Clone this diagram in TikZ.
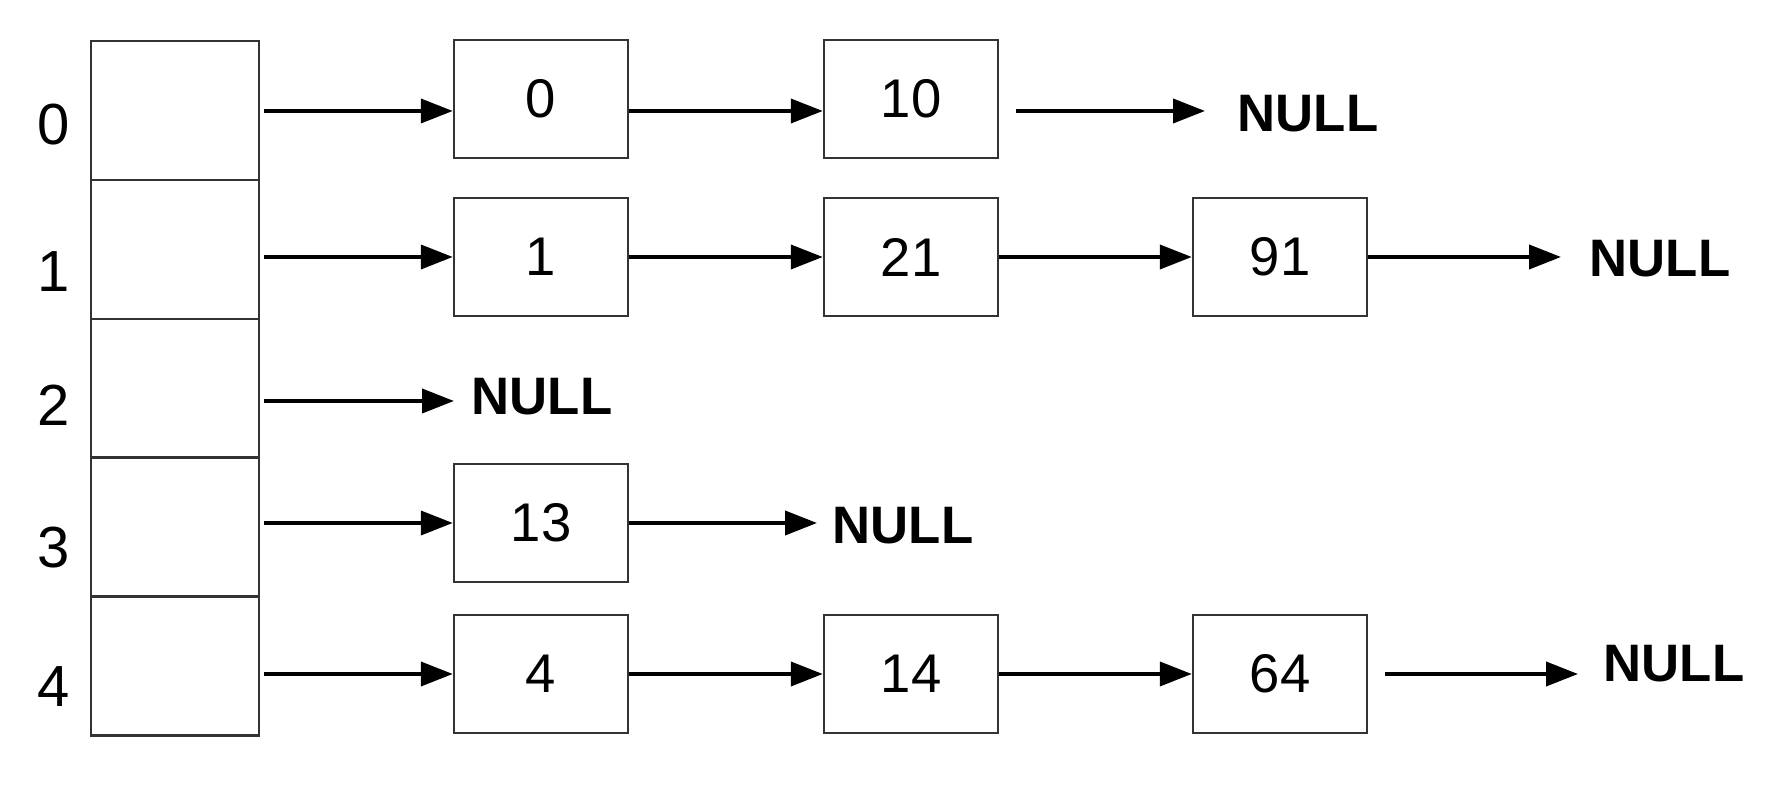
\documentclass[tikz,border=0pt]{standalone}
\usepackage{fontspec}
\setmainfont{Liberation Sans}
\usetikzlibrary{arrows.meta}
\tikzset{
    slot/.style={draw=black!80, line width=0.7pt, minimum width=16.8mm, minimum height=13.89mm, inner sep=0pt},
    elem/.style={draw=black!80, line width=0.7pt, minimum width=17.4mm, minimum height=11.8mm, inner sep=0pt, font=\fontsize{15.5}{16}\selectfont},
    idx/.style={inner sep=0pt, font=\fontsize{16.5}{17}\selectfont},
    nil/.style={anchor=west, inner sep=0pt, font=\bfseries\fontsize{15}{16}\selectfont},
    link/.style={-{Triangle[length=3.2mm,width=2.4mm]}, line width=1.1pt}
}
\begin{document}
\begin{tikzpicture}[x=0.1mm,y=0.1mm]
        \useasboundingbox (0,0) rectangle (1780,808);
        \node[slot] (t0) at (175,697.5) {};
        \node[slot] (t1) at (175,558.6) {};
        \node[slot] (t2) at (175,419.8) {};
        \node[slot] (t3) at (175,280.9) {};
        \node[slot] (t4) at (175,142) {};
        \node[idx] (i0) at (54,683) {0};
        \node[idx] (i1) at (54,536) {1};
        \node[idx] (i2) at (54,403) {2};
        \node[idx] (i3) at (54,260) {3};
        \node[idx] (i4) at (54,121) {4};

        \node[elem] (a0) at (541,709) {0};
        \node[elem] (a1) at (911,709) {10};
        \node[elem] (b0) at (541,551) {1};
        \node[elem] (b1) at (911,551) {21};
        \node[elem] (b2) at (1280,551) {91};
        \node[elem] (d0) at (541,285) {13};
        \node[elem] (e0) at (541,134) {4};
        \node[elem] (e1) at (911,134) {14};
        \node[elem] (e2) at (1280,134) {64};

        \node[nil] (n0) at (1237,694.5) {NULL};
        \node[nil] (n1) at (1589,549) {NULL};
        \node[nil] (n2) at (471,411) {NULL};
        \node[nil] (n3) at (832,282.5) {NULL};
        \node[nil] (n4) at (1603,144) {NULL};

        \coordinate (s0) at (264,697);
        \coordinate (s1) at (264,551);
        \coordinate (s2) at (264,407);
        \coordinate (s3) at (264,285);
        \coordinate (s4) at (264,134);
        \coordinate (u0) at (1016,697);
        \coordinate (v0) at (1205,697);
        \coordinate (v1) at (1561,551);
        \coordinate (v2) at (454,407);
        \coordinate (v3) at (817,285);
        \coordinate (u4) at (1385,134);
        \coordinate (v4) at (1578,134);

        \draw[link] (s0) -- (s0 -| a0.west);
        \draw[link] (s0 -| a0.east) -- (s0 -| a1.west);
        \draw[link] (u0) -- (v0);
        \draw[link] (s1) -- (b0);
        \draw[link] (b0) -- (b1);
        \draw[link] (b1) -- (b2);
        \draw[link] (b2) -- (v1);
        \draw[link] (s2) -- (v2);
        \draw[link] (s3) -- (d0);
        \draw[link] (d0) -- (v3);
        \draw[link] (s4) -- (e0);
        \draw[link] (e0) -- (e1);
        \draw[link] (e1) -- (e2);
        \draw[link] (u4) -- (v4);
\end{tikzpicture}
\end{document}
